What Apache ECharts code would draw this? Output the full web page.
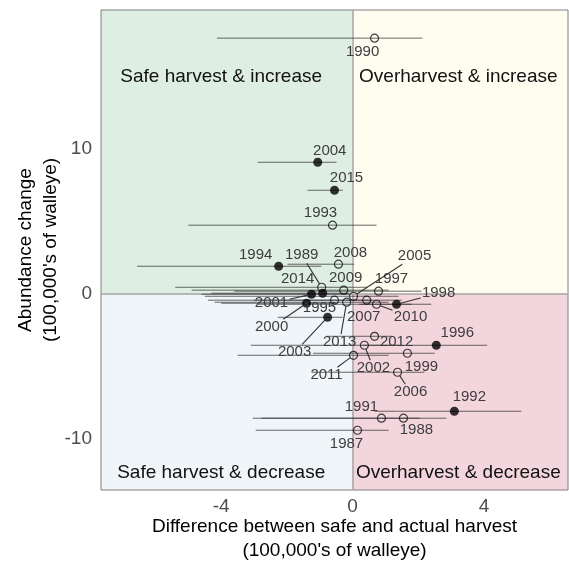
<!DOCTYPE html>
<html>
<head>
<meta charset="utf-8">
<script src="https://cdn.jsdelivr.net/npm/echarts@6/dist/echarts.min.js"></script>
<style>
  html, body { margin: 0; padding: 0; background: #ffffff; }
  #chart { width: 569px; height: 567px; }
</style>
</head>
<body>
<div id="chart"></div>
<script>
// Walleye harvest vs. abundance change, 1987-2015
const years = [1987, 1988, 1989, 1990, 1991, 1992, 1993, 1994, 1995, 1996,
               1997, 1998, 1999, 2000, 2001, 2002, 2003, 2004, 2005, 2006,
               2007, 2008, 2009, 2010, 2011, 2012, 2013, 2014, 2015];
// difference between safe and actual harvest (100,000's)
const harvestDiff = [0.15, 1.55, -0.94, 0.67, 0.88, 3.10, -0.61, -2.25, -0.55, 2.55,
                     0.79, 1.34, 1.67, -1.40, -1.25, 0.36, -0.76, -1.06, 0.03, 1.37,
                     0.43, -0.43, -0.27, 0.73, 0.03, 0.67, -0.18, -0.91, -0.55];
const harvestDiffLow = [-2.95, -2.77, -5.40, -4.13, -3.04, 0.67, -5.00, -6.56, -4.40, 0.30,
                        -3.60, 0.20, -1.20, -4.00, -4.60, -3.10, -2.28, -2.89, -4.50, -1.25,
                        -3.00, -1.98, -4.90, -2.90, -3.50, -0.79, -4.20, -4.30, -1.37];
const harvestDiffHigh = [1.10, 2.86, 0.45, 2.13, 2.04, 5.14, 0.73, -0.95, 0.60, 4.10,
                         2.10, 2.40, 2.50, -0.50, -0.10, 1.40, -0.30, -0.49, 1.40, 2.19,
                         1.50, 0.05, 1.10, 1.80, 1.10, 1.22, 1.10, -0.10, -0.30];
// abundance change (100,000's)
const abundanceChange = [-9.38, -8.55, 0.48, 17.66, -8.55, -8.07, 4.76, 1.93, -0.41, -3.52,
                         0.21, -0.69, -4.07, -0.62, 0.00, -3.52, -1.59, 9.10, -0.14, -5.38,
                         -0.41, 2.07, 0.28, -0.69, -4.21, -2.90, -0.55, 0.07, 7.17];
// 1 = interval excludes zero (solid marker)
const excludesZero = [0, 0, 0, 0, 0, 1, 0, 1, 0, 1,
                      0, 1, 0, 1, 1, 0, 1, 1, 0, 0,
                      0, 0, 0, 0, 0, 0, 0, 1, 1];
const xTickValues = [-4, 0, 4];
const yTickValues = [-10, 0, 10];
const quadrantNames = ['Safe harvest & increase', 'Overharvest & increase',
                       'Safe harvest & decrease', 'Overharvest & decrease'];

const X_MIN = -7.66, X_MAX = 6.56, Y_MIN = -13.5, Y_MAX = 19.6;
const FONT = 'Liberation Sans, Arial, Helvetica, sans-serif';

// year label offsets from the marker (px) and whether a leader segment is drawn
const labelPlacement = {
  1987: [-11, 14, 0], 1988: [13, 12, 0], 1989: [-20, -32, 1], 1990: [-12, 14, 0],
  1991: [-20, -11, 0], 1992: [15, -14, 0], 1993: [-12, -12, 0], 1994: [-23, -11, 0],
  1995: [-15, 8, 0], 1996: [21, -12, 0], 1997: [13, -12, 0], 1998: [42, -11, 1],
  1999: [14, 14, 0], 2000: [-35, 24, 1], 2001: [-40, 9, 1], 2002: [9, 23, 1],
  2003: [-33, 35, 1], 2004: [12, -11, 0], 2005: [61, -40, 1], 2006: [13, 20, 1],
  2007: [-3, 17, 0], 2008: [12, -11, 0], 2009: [2, -12, 0], 2010: [34, 13, 1],
  2011: [-27, 20, 1], 2012: [22, 6, 0], 2013: [-7, 40, 1], 2014: [-25, -14, 0],
  2015: [12, -12, 0]
};

const barRows = years.map((y, i) => [harvestDiffLow[i], harvestDiffHigh[i], abundanceChange[i]]);
const solidPts = [], hollowPts = [];
years.forEach((y, i) => {
  (excludesZero[i] ? solidPts : hollowPts).push([harvestDiff[i], abundanceChange[i]]);
});
const labelRows = years.map((y, i) => {
  const p = labelPlacement[y];
  return [harvestDiff[i], abundanceChange[i], p[0], p[1], p[2], y];
});

const quadrantRows = [
  [-4.0, 15.0, 0], [3.22, 15.0, 1], [-4.0, -12.3, 2], [3.22, -12.3, 3]
];

const chart = echarts.init(document.getElementById('chart'));

chart.setOption({
  animation: false,
  textStyle: { fontFamily: FONT },
  grid: {
    left: 101, right: 1, top: 10, bottom: 77,
    outerBoundsMode: 'none', containLabel: false,
    show: true, borderColor: '#7f7f7f', borderWidth: 1,
    backgroundColor: 'transparent', z: 5
  },
  xAxis: {
    type: 'value', min: X_MIN, max: X_MAX,
    splitLine: { show: false },
    axisLine: { show: false },
    axisTick: { show: true, customValues: xTickValues, length: 4, lineStyle: { color: '#333333' } },
    axisLabel: { customValues: xTickValues, fontSize: 19, color: '#4d4d4d', margin: 7, fontFamily: FONT },
    name: 'Difference between safe and actual harvest\n(100,000\'s of walleye)',
    nameLocation: 'middle', nameGap: 25, nameMoveOverlap: false,
    nameTextStyle: { fontSize: 19, color: '#000000', lineHeight: 24, fontFamily: FONT }
  },
  yAxis: {
    type: 'value', min: Y_MIN, max: Y_MAX,
    splitLine: { show: false },
    axisLine: { show: false },
    axisTick: { show: true, customValues: yTickValues, length: 4, lineStyle: { color: '#333333' } },
    axisLabel: { customValues: yTickValues, fontSize: 19, color: '#4d4d4d', margin: 9, fontFamily: FONT },
    name: 'Abundance change\n(100,000\'s of walleye)',
    nameLocation: 'middle', nameRotate: 90, nameGap: 38, nameMoveOverlap: false,
    nameTextStyle: { fontSize: 19, color: '#000000', lineHeight: 25, fontFamily: FONT }
  },
  series: [
    {
      // quadrant shading and zero reference lines
      type: 'scatter', data: [], z: 1, silent: true,
      markArea: {
        silent: true,
        label: { show: false },
        data: [
          [{ coord: [X_MIN, 0], itemStyle: { color: '#deeee2' } }, { coord: [0, Y_MAX] }],
          [{ coord: [0, 0], itemStyle: { color: '#fffdf0' } }, { coord: [X_MAX, Y_MAX] }],
          [{ coord: [X_MIN, Y_MIN], itemStyle: { color: '#f0f5f9' } }, { coord: [0, 0] }],
          [{ coord: [0, Y_MIN], itemStyle: { color: '#f3d6dd' } }, { coord: [X_MAX, 0] }]
        ]
      },
      markLine: {
        silent: true, symbol: 'none',
        label: { show: false },
        lineStyle: { color: '#a3a3a3', width: 1.5, type: 'solid' },
        data: [{ xAxis: 0 }, { yAxis: 0 }]
      }
    },
    {
      // quadrant captions
      type: 'custom', z: 3, silent: true,
      data: quadrantRows,
      renderItem: function (params, api) {
        const p = api.coord([api.value(0), api.value(1)]);
        return {
          type: 'text', x: p[0], y: p[1],
          style: {
            text: quadrantNames[api.value(2)], fill: '#111111',
            fontSize: 19, fontFamily: FONT, align: 'center', verticalAlign: 'middle'
          }
        };
      }
    },
    {
      // horizontal interval bars
      type: 'custom', z: 6, silent: true,
      data: barRows,
      encode: { x: [0, 1], y: 2 },
      renderItem: function (params, api) {
        const yv = api.value(2);
        const a = api.coord([api.value(0), yv]);
        const b = api.coord([api.value(1), yv]);
        return {
          type: 'line',
          shape: { x1: a[0], y1: a[1], x2: b[0], y2: b[1] },
          style: { stroke: 'rgba(55,55,55,0.75)', lineWidth: 1 }
        };
      }
    },
    {
      type: 'scatter', z: 8, silent: true,
      data: hollowPts, symbol: 'circle', symbolSize: 8,
      itemStyle: { color: 'rgba(0,0,0,0)', borderColor: '#111111', borderWidth: 1.2 }
    },
    {
      type: 'scatter', z: 9, silent: true,
      data: solidPts, symbol: 'circle', symbolSize: 9,
      itemStyle: { color: '#000000' }
    },
    {
      // year labels with leader segments
      type: 'custom', z: 10, silent: true,
      data: labelRows,
      renderItem: function (params, api) {
        const p = api.coord([api.value(0), api.value(1)]);
        const cx = p[0] + api.value(2), cy = p[1] + api.value(3);
        const children = [];
        if (api.value(4)) {
          const vx = p[0] - cx, vy = p[1] - cy;
          const len = Math.sqrt(vx * vx + vy * vy);
          const hw = 18, hh = 8;
          const s = Math.min(vx !== 0 ? hw / Math.abs(vx) : Infinity, vy !== 0 ? hh / Math.abs(vy) : Infinity);
          if (s < 1) {
            const sx = cx + vx * s, sy = cy + vy * s;
            const ex = p[0] - vx / len * 4, ey = p[1] - vy / len * 4;
            children.push({
              type: 'line',
              shape: { x1: sx, y1: sy, x2: ex, y2: ey },
              style: { stroke: '#333333', lineWidth: 1.1 }
            });
          }
        }
        children.push({
          type: 'text', x: cx, y: cy,
          style: {
            text: String(api.value(5)), fill: '#3d3d3d',
            fontSize: 15, fontFamily: FONT, align: 'center', verticalAlign: 'middle'
          }
        });
        return { type: 'group', children: children };
      }
    }
  ]
});
</script>
</body>
</html>
